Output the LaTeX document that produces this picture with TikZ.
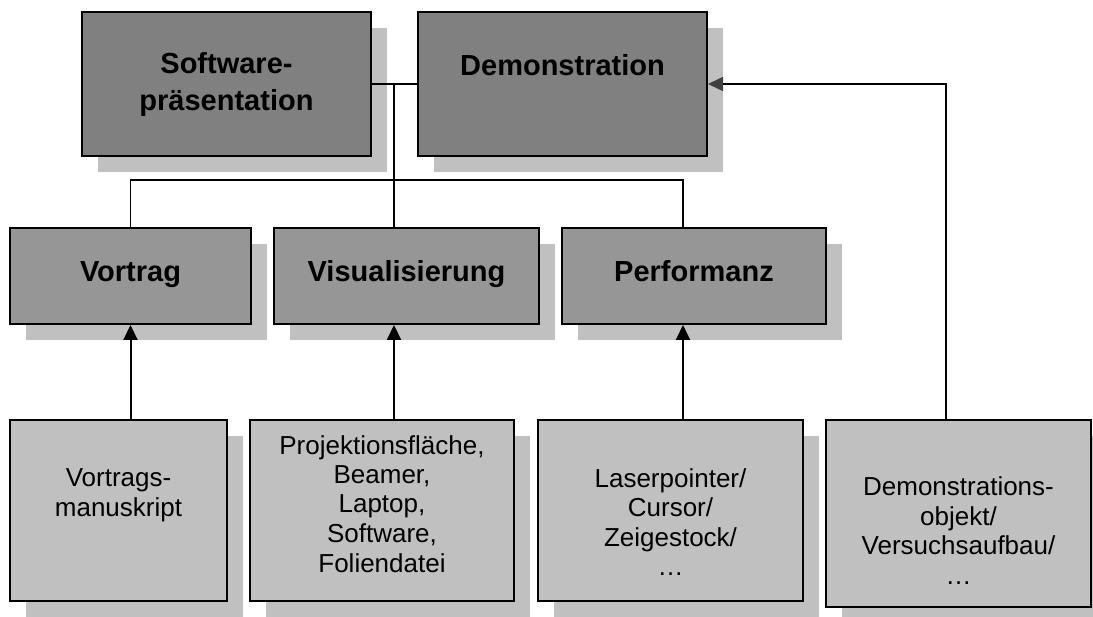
\documentclass[tikz,border=0pt]{standalone}
\usepackage{fontspec}
\setmainfont{Liberation Sans}
\usetikzlibrary{arrows.meta,shadows}
\definecolor{topgray}{HTML}{808080}
\definecolor{midgray}{HTML}{969696}
\definecolor{lowgray}{HTML}{C0C0C0}
\definecolor{shadowgray}{HTML}{C0C0C0}
\definecolor{tipgray}{HTML}{404040}
\tikzset{
  box/.style={draw=black, line width=2pt, inner sep=0pt,
    drop shadow={shadow xshift=16pt, shadow yshift=-16pt, fill=shadowgray, opacity=1}},
  topbox/.style={box, fill=topgray, minimum width=289pt, minimum height=144pt},
  midbox/.style={box, fill=midgray, minimum height=96pt},
  lowbox/.style={box, fill=lowgray, minimum height=181pt},
  boldtxt/.style={font=\fontsize{29}{37}\selectfont\bfseries, align=center, anchor=base, inner sep=0pt},
  plaintxt/.style={font=\fontsize{26}{29.5}\selectfont, align=center, anchor=base, inner sep=0pt},
  link/.style={line width=1.3pt},
  uparrow/.style={line width=2pt, -{Triangle[width=14pt,length=15pt]}},
  sidearrow/.style={line width=1.5pt, -{Triangle[width=14pt,length=15pt,color=tipgray]}},
}
\begin{document}
\begin{tikzpicture}[x=1pt,y=-1pt]
\useasboundingbox (0,0) rectangle (1093,617);
\clip (0,0) rectangle (1093,617);
% boxes
\node[topbox] (sw) at (226.5,84) {};
\node[topbox] (demo) at (562.5,84) {};
\node[midbox, minimum width=241pt] (vortrag) at (130.5,276) {};
\node[midbox, minimum width=265pt] (vis) at (406.5,276) {};
\node[midbox, minimum width=264pt] (perf) at (694,276) {};
\node[lowbox, minimum width=217pt] (vm) at (118.5,510.5) {};
\node[lowbox, minimum width=264pt] (pf) at (382,510.5) {};
\node[lowbox, minimum width=265pt] (lp) at (670.5,510.5) {};
\node[lowbox, minimum width=265pt, minimum height=187pt] (do) at (958.5,513.5) {};
% texts (anchor = baseline of the last line)
\node[boldtxt] (swt) at (226.5,111) {Software-\\präsentation};
\node[boldtxt] (demot) at (562.5,76) {Demonstration};
\node[boldtxt] (vortragt) at (130.5,282) {Vortrag};
\node[boldtxt] (vist) at (406.5,282) {Visualisierung};
\node[boldtxt] (perft) at (694,282) {Performanz};
\node[plaintxt] (vmt) at (118.5,516.5) {Vortrags-\\manuskript};
\node[plaintxt] (pft) at (382,572) {Projektionsfläche,\\Beamer,\\Laptop,\\Software,\\Foliendatei};
\node[plaintxt] (lpt) at (670.5,575.5) {Laserpointer/\\Cursor/\\Zeigestock/\\…};
\node[plaintxt] (dot) at (958.5,584) {Demonstrations-\\objekt/\\Versuchsaufbau/\\…};
% connectors
\coordinate (j) at (394,84);
\coordinate (pj) at (683,180);
\coordinate (dj) at (946,84);
\draw[link] (sw.east) -- (demo.west);
\draw[link] (j) -- (j |- vis.north);
\draw[link] (vortrag.north) |- (pj) -- (pj |- perf.north);
\draw[uparrow] (vortrag.south |- vm.north) -- (vortrag.south);
\draw[uparrow] (j |- pf.north) -- (j |- vis.south);
\draw[uparrow] (pj |- lp.north) -- (pj |- perf.south);
\draw[sidearrow] (dj |- do.north) -- (dj) -- (demo.east);
\end{tikzpicture}
\end{document}
